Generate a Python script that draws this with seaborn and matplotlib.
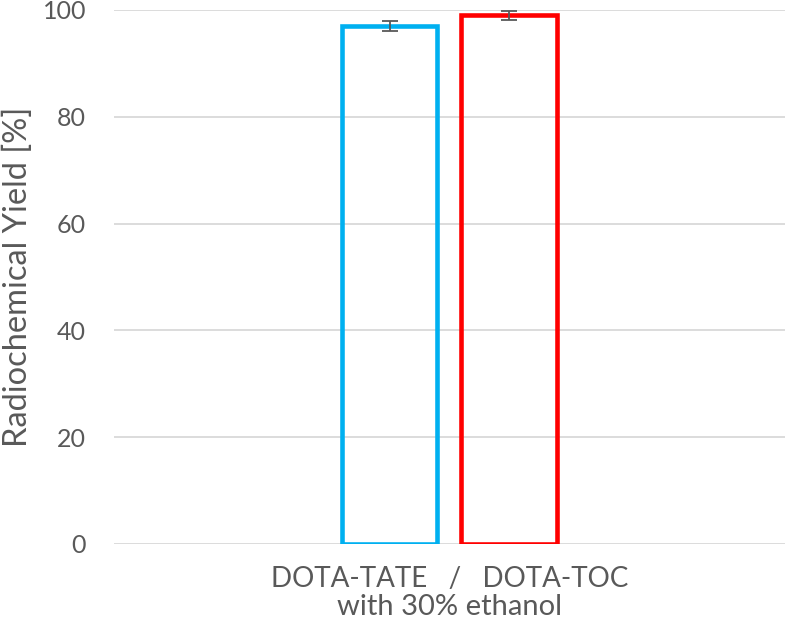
import pandas as pd
import matplotlib.pyplot as plt
import seaborn as sns

# data
compounds = ["DOTA-TATE", "DOTA-TOC"]
yields = [97.0, 99.0]
errors = [1.0, 0.8]
category = "DOTA-TATE   /   DOTA-TOC"
colors = ["#00B0F0", "#FF0000"]

df = pd.DataFrame({"cond": [category] * 2, "compound": compounds, "yield": yields})

sns.set_style("white")
plt.rcParams["font.family"] = ["Lato", "DejaVu Sans"]

fig = plt.figure(figsize=(7.85, 6.21), dpi=100)
ax = fig.add_axes([0.145, 0.124, 0.855, 0.860])

sns.barplot(data=df, x="cond", y="yield", hue="compound", palette=colors,
            fill=False, linewidth=3.3, width=0.356, gap=0.2, legend=False, ax=ax)

# error bars at the bar centres
for patch, err in zip(ax.patches, errors):
    cx = patch.get_x() + patch.get_width() / 2
    ax.errorbar(cx, patch.get_height(), yerr=err, fmt="none",
                ecolor="#595959", elinewidth=1.3, capsize=6, capthick=1.3, zorder=5)

ax.set_xlim(-0.5, 0.5)
ax.set_ylim(0, 100)
ax.set_yticks(range(0, 101, 20))
ax.yaxis.grid(True, color="#D9D9D9", linewidth=1.3)
ax.set_axisbelow(True)
for s in ax.spines.values():
    s.set_visible(False)

ax.tick_params(axis="y", length=0, pad=20, labelsize=18, labelcolor="#595959")
ax.tick_params(axis="x", length=0, pad=16, labelsize=20, labelcolor="#595959")
ax.set_xlabel("with 30% ethanol", fontsize=21, color="#595959", labelpad=1)
ax.set_ylabel("Radiochemical Yield [%]", fontsize=23.5, color="#595959", labelpad=7)

fig.savefig("out.png", dpi=100)
